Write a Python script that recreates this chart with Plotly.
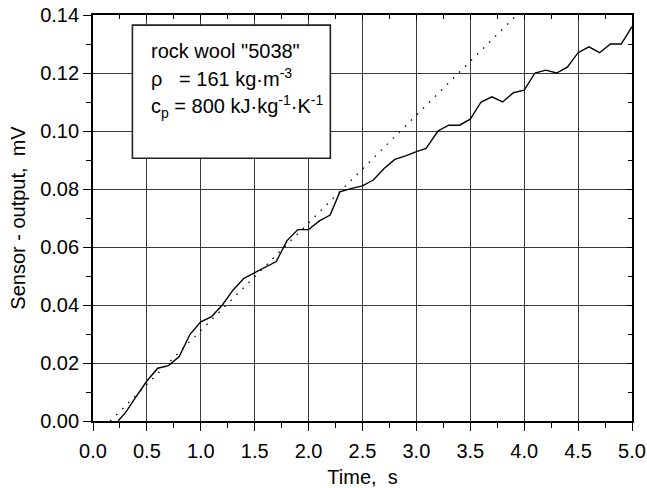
import plotly.graph_objects as go

# measured sensor output (solid line)
time_s = [0.232, 0.30, 0.40, 0.50, 0.60, 0.70, 0.80, 0.90, 1.00, 1.10, 1.20, 1.30, 1.40,
          1.50, 1.60, 1.70, 1.80, 1.90, 2.00, 2.10, 2.20, 2.29, 2.40, 2.50, 2.60, 2.70,
          2.80, 2.90, 3.00, 3.09, 3.20, 3.30, 3.40, 3.50, 3.60, 3.70, 3.80, 3.90, 4.00,
          4.10, 4.20, 4.30, 4.40, 4.50, 4.60, 4.70, 4.80, 4.90, 5.00]
sensor_mV = [0.000, 0.0028, 0.0084, 0.0138, 0.0182, 0.0191, 0.0222, 0.0299, 0.0342, 0.0360,
             0.0400, 0.0452, 0.0492, 0.0511, 0.0532, 0.0550, 0.0622, 0.0660, 0.0660, 0.0690,
             0.0710, 0.0790, 0.0802, 0.0811, 0.0831, 0.0871, 0.0902, 0.0914, 0.0929, 0.0940,
             0.1000, 0.1020, 0.1020, 0.1041, 0.1100, 0.1118, 0.1100, 0.1132, 0.1141, 0.1200,
             0.1210, 0.1200, 0.1220, 0.1270, 0.1290, 0.1270, 0.1300, 0.1300, 0.1360]

# linear fit (dotted line)
fit_x = [0.16, 3.93]
fit_y = [0.0, 0.14]

x_range = [0, 5]
y_range = [0, 0.14]

FONT = "Liberation Sans, Arial, sans-serif"
FS = 20

fig = go.Figure()
fig.add_trace(go.Scatter(x=time_s, y=sensor_mV, mode="lines",
                         line=dict(color="black", width=1.4), showlegend=False,
                         hoverinfo="skip"))
fig.add_trace(go.Scatter(x=fit_x, y=fit_y, mode="lines", xaxis="x2", yaxis="y2",
                         line=dict(color="black", width=1.3, dash="1.5px,7px"),
                         showlegend=False, hoverinfo="skip"))

fig.update_layout(
    width=647, height=488,
    margin=dict(l=93, r=15, t=15, b=67, autoexpand=False),
    paper_bgcolor="white", plot_bgcolor="white",
    font=dict(family=FONT, size=FS, color="black"),
    xaxis=dict(range=x_range, dtick=0.5, tick0=0, tickformat=".1f",
               showgrid=True, gridcolor="#3a3a3a", gridwidth=1,
               showline=True, linecolor="black", linewidth=1.8, mirror=True,
               ticks="outside", ticklen=8, tickwidth=1.3, tickcolor="black",
               minor=dict(dtick=0.25, ticks="outside", ticklen=5, tickwidth=1.3,
                          tickcolor="black", showgrid=False),
               zeroline=False, ticklabelstandoff=3, automargin=False,
               title=dict(text="Time,\u00a0 s", font=dict(size=FS), standoff=10),
               tickfont=dict(size=FS)),
    yaxis=dict(range=y_range, dtick=0.02, tick0=0, tickformat=".2f",
               showgrid=True, gridcolor="#3a3a3a", gridwidth=1,
               showline=True, linecolor="black", linewidth=1.8, mirror=True,
               ticks="outside", ticklen=8, tickwidth=1.3, tickcolor="black",
               minor=dict(dtick=0.01, ticks="outside", ticklen=5, tickwidth=1.3,
                          tickcolor="black", showgrid=False),
               zeroline=False, automargin=False,
               title=dict(text="Sensor - output,\u00a0 mV", font=dict(size=FS), standoff=9),
               tickfont=dict(size=FS)),
    xaxis2=dict(range=x_range, overlaying="x", side="top", anchor="y2",
                dtick=0.5, tick0=0, showticklabels=False, showgrid=False,
                showline=False, zeroline=False,
                ticks="inside", ticklen=5, tickwidth=1.3, tickcolor="black",
                minor=dict(dtick=0.25, ticks="inside", ticklen=4, tickwidth=1.3,
                           tickcolor="black", showgrid=False)),
    yaxis2=dict(range=y_range, overlaying="y", side="right", anchor="x2",
                dtick=0.02, tick0=0, showticklabels=False, showgrid=False,
                showline=False, zeroline=False,
                ticks="inside", ticklen=5, tickwidth=1.3, tickcolor="black",
                minor=dict(dtick=0.01, ticks="inside", ticklen=4, tickwidth=1.3,
                           tickcolor="black", showgrid=False)),
)

# info box
fig.add_shape(type="rect", xref="paper", yref="paper",
              x0=0.0731, x1=0.4404, y0=0.647, y1=0.975,
              line=dict(color="#222222", width=1.6), fillcolor="white", layer="above")

lines = [
    ("rock wool \"5038\"", 0.912),
    ("\u03c1\u00a0\u00a0\u00a0= 161 kg\u00b7m<sup>-3</sup>", 0.845),
    ("c<sub>p</sub> = 800 kJ\u00b7kg<sup>-1</sup>\u00b7K<sup>-1</sup>", 0.775),
]
for txt, yy in lines:
    fig.add_annotation(xref="paper", yref="paper", x=0.1039, y=yy, text=txt,
                       showarrow=False, xanchor="left", yanchor="middle",
                       font=dict(family=FONT, size=FS, color="black"))

fig.write_html("out.html")
